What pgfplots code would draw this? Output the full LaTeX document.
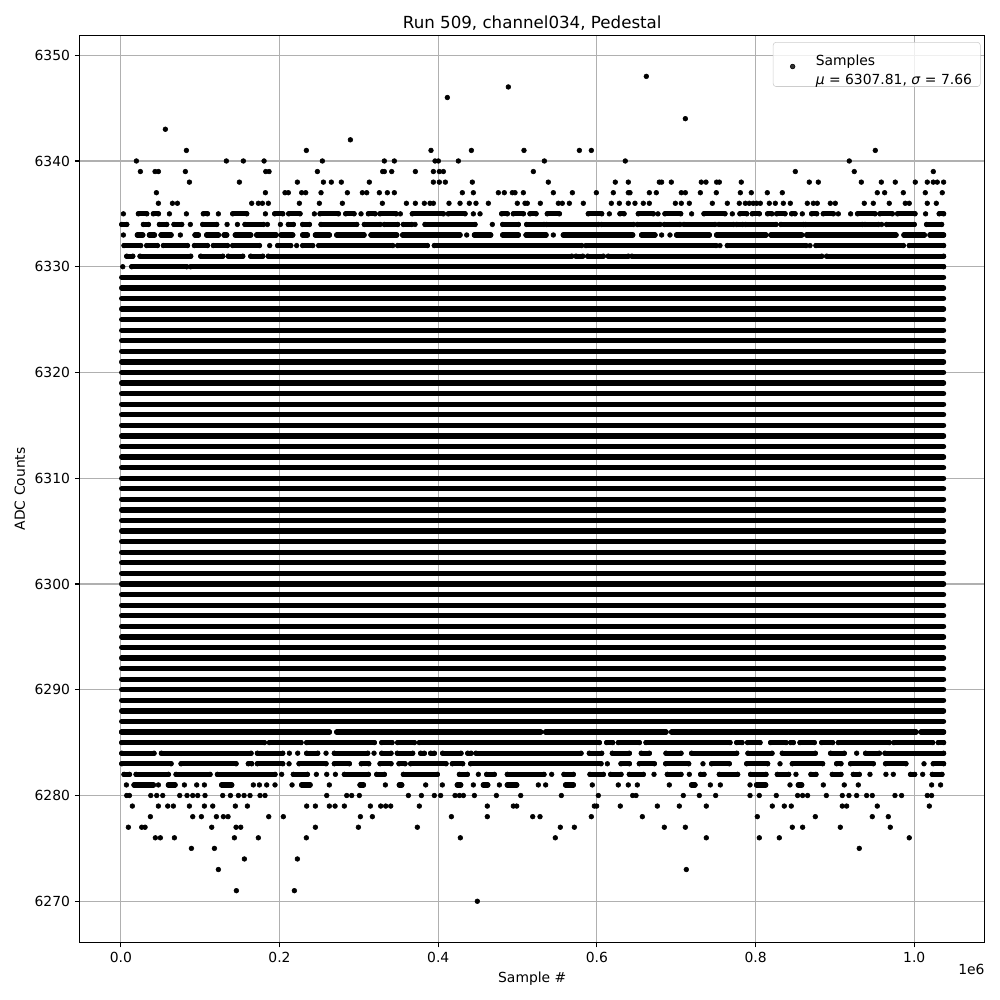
\documentclass[border=0pt]{standalone}
\usepackage{fontspec}
\setmainfont{DejaVu Sans}
\usepackage{pgfplots}
\pgfplotsset{compat=1.18}
\pgfplotsset{
 rowline/.style={black, line width=3.8pt, line cap=round, line join=round, mark=*, mark size=1.7pt,
   mark options={solid, fill=black, line width=0.4pt}, unbounded coords=jump, forget plot},
 dots/.style={black, only marks, mark=*, mark size=1.7pt, mark options={fill=black, line width=0.4pt}, forget plot},
}
\begin{document}
\begin{tikzpicture}
\begin{axis}[
 width=651.6pt, height=653.3pt, scale only axis,
 xmin=-0.05185, xmax=1.08885, ymin=6266.1, ymax=6351.9,
 xtick={0,0.2,0.4,0.6,0.8,1.0}, xticklabels={0.0,0.2,0.4,0.6,0.8,1.0},
 ytick={6270,6280,6290,6300,6310,6320,6330,6340,6350},
 yticklabels={6270,6280,6290,6300,6310,6320,6330,6340,6350},
 /pgf/number format/assume math mode=true,
 ticklabel style={font=\fontsize{10}{12}\selectfont},
 tick align=outside, major tick length=3.5pt,
 xtick pos=bottom, ytick pos=left,
 tick style={black, line width=0.8pt},
 axis line style={line width=0.8pt},
 grid=major, major grid style={color=black!31, line width=0.8pt},
 xlabel={Sample \#}, ylabel={ADC Counts},
 label style={font=\fontsize{10}{12}\selectfont},
 title={Run 509, channel034, Pedestal}, title style={font=\fontsize{12}{14}\selectfont, yshift=-6.5pt},
 legend style={at={(rel axis cs:1,1)}, anchor=north east, xshift=-3pt, yshift=-5pt,
   draw=black!20, rounded corners=2pt, fill=white, fill opacity=0.8, text opacity=1,
   font=\fontsize{10}{12}\selectfont, inner xsep=4pt, inner ysep=5pt, cells={anchor=west},
   /tikz/every odd column/.append style={column sep=4.7pt}},
 legend image code/.code={\path[draw=none, fill=none] (0pt,-2pt) rectangle (20pt,2pt);
   \draw[black, mark=*, mark size=1.7pt, mark options={fill=black, line width=0.4pt}] plot coordinates {(10pt,-1.5pt)};},
]
\coordinate (SW) at (rel axis cs:0,0);
\coordinate (NE) at (rel axis cs:1,1);
\addlegendimage{black}
\addlegendentry{{\renewcommand\arraystretch{1.15}\begin{tabular}{@{}l@{}}Samples\\\textit{μ} = 6307.81, \textit{σ} = 7.66\end{tabular}}}

% dense rows 6287..6329
\addplot[rowline, mark=none] coordinates {
(0.001,6287)(1.037,6287)(0,nan)(0.001,6288)(1.037,6288)(0,nan)(0.001,6289)(1.037,6289)(0,nan)
(0.001,6290)(1.037,6290)(0,nan)(0.001,6291)(1.037,6291)(0,nan)(0.001,6292)(1.037,6292)(0,nan)
(0.001,6293)(1.037,6293)(0,nan)(0.001,6294)(1.037,6294)(0,nan)(0.001,6295)(1.037,6295)(0,nan)
(0.001,6296)(1.037,6296)(0,nan)(0.001,6297)(1.037,6297)(0,nan)(0.001,6298)(1.037,6298)(0,nan)
(0.001,6299)(1.037,6299)(0,nan)(0.001,6300)(1.037,6300)(0,nan)(0.001,6301)(1.037,6301)(0,nan)
(0.001,6302)(1.037,6302)(0,nan)(0.001,6303)(1.037,6303)(0,nan)(0.001,6304)(1.037,6304)(0,nan)
(0.001,6305)(1.037,6305)(0,nan)(0.001,6306)(1.037,6306)(0,nan)(0.001,6307)(1.037,6307)(0,nan)
(0.001,6308)(1.037,6308)(0,nan)(0.001,6309)(1.037,6309)(0,nan)(0.001,6310)(1.037,6310)(0,nan)
(0.001,6311)(1.037,6311)(0,nan)(0.001,6312)(1.037,6312)(0,nan)(0.001,6313)(1.037,6313)(0,nan)
(0.001,6314)(1.037,6314)(0,nan)(0.001,6315)(1.037,6315)(0,nan)(0.001,6316)(1.037,6316)(0,nan)
(0.001,6317)(1.037,6317)(0,nan)(0.001,6318)(1.037,6318)(0,nan)(0.001,6319)(1.037,6319)(0,nan)
(0.001,6320)(1.037,6320)(0,nan)(0.001,6321)(1.037,6321)(0,nan)(0.001,6322)(1.037,6322)(0,nan)
(0.001,6323)(1.037,6323)(0,nan)(0.001,6324)(1.037,6324)(0,nan)(0.001,6325)(1.037,6325)(0,nan)
(0.001,6326)(1.037,6326)(0,nan)(0.001,6327)(1.037,6327)(0,nan)(0.001,6328)(1.037,6328)(0,nan)
(0.001,6329)(1.037,6329)
};

% row 6330
\addplot[rowline] coordinates {(0.0024,6330)(0,nan)(0.0137,6330)(0.0830,6330)(0,nan)(0.0880,6330)(1.037,6330)};
% row 6331
\addplot[rowline] coordinates {
(0.0074,6331)(0.0150,6331)(0,nan)(0.0242,6331)(0.0880,6331)(0,nan)(0.1007,6331)(0.1284,6331)(0,nan)
(0.1355,6331)(0.1536,6331)(0,nan)(0.1637,6331)(0.1788,6331)(0,nan)(0.1859,6331)(0.5682,6331)(0,nan)
(0.5737,6331)(0.5821,6331)(0,nan)(0.5884,6331)(0.6081,6331)(0,nan)(0.6144,6331)(0.6396,6331)(0,nan)
(0.6442,6331)(0.8833,6331)(0,nan)(0.8896,6331)(1.037,6331)};
% row 6332
\addplot[rowline] coordinates {
(0.0040,6332)(0.0250,6332)(0,nan)(0.0326,6332)(0.0460,6332)(0,nan)(0.0536,6332)(0.0839,6332)(0,nan)
(0.0927,6332)(0.1091,6332)(0,nan)(0.1166,6332)(0.1343,6332)(0,nan)(0.1410,6332)(0.1746,6332)(0,nan)
(0.1876,6332)(0,nan)(0.1977,6332)(0.2141,6332)(0,nan)(0.2216,6332)(0,nan)(0.2292,6332)(0.2418,6332)(0,nan)
(0.2494,6332)(0.3426,6332)(0,nan)(0.3489,6332)(0.3863,6332)(0,nan)(0.3951,6332)(0.5808,6332)(0,nan)
(0.5863,6332)(0.7501,6332)(0,nan)(0.7551,6332)(0,nan)(0.7644,6332)(0.8635,6332)(0,nan)(0.8686,6332)(0,nan)
(0.8761,6332)(0.9862,6332)(0,nan)(0.9937,6332)(1.037,6332)};
% row 6333
\addplot[rowline] coordinates {
(0.0032,6333)(0,nan)(0.0208,6333)(0.0276,6333)(0,nan)(0.0360,6333)(0.0423,6333)(0,nan)
(0.0507,6333)(0.0633,6333)(0,nan)(0.0750,6333)(0,nan)(0.0935,6333)(0.0977,6333)(0,nan)
(0.1082,6333)(0.1229,6333)(0,nan)(0.1301,6333)(0.1334,6333)(0,nan)(0.1443,6333)(0.1637,6333)(0,nan)
(0.1712,6333)(0.1956,6333)(0,nan)(0.2019,6333)(0.2166,6333)(0,nan)(0.2292,6333)(0.2351,6333)(0,nan)
(0.2452,6333)(0.2628,6333)(0,nan)(0.2721,6333)(0.3065,6333)(0,nan)(0.3153,6333)(0.3477,6333)(0,nan)
(0.3552,6333)(0.4275,6333)(0,nan)(0.4359,6333)(0,nan)(0.4456,6333)(0.4661,6333)(0,nan)
(0.4813,6333)(0.5010,6333)(0,nan)(0.5107,6333)(0.5359,6333)(0,nan)(0.5451,6333)(0,nan)
(0.5577,6333)(0.6451,6333)(0,nan)(0.6564,6333)(0.6732,6333)(0,nan)(0.6816,6333)(0,nan)(0.6921,6333)(0,nan)
(0.7005,6333)(0.7417,6333)(0,nan)(0.7509,6333)(0.8131,6333)(0,nan)(0.8194,6333)(0.8581,6333)(0,nan)
(0.8644,6333)(0.9770,6333)(0,nan)(0.9870,6333)(1.0127,6333)(0,nan)(1.0198,6333)(1.037,6333)};
% row 6334
\addplot[rowline] coordinates {
(0.0011,6334)(0.0074,6334)(0,nan)(0.0284,6334)(0.0347,6334)(0,nan)(0.0486,6334)(0.0578,6334)(0,nan)
(0.0670,6334)(0.0767,6334)(0,nan)(0.0876,6334)(0,nan)(0.1032,6334)(0.1208,6334)(0,nan)
(0.1339,6334)(0,nan)(0.1469,6334)(0,nan)(0.1565,6334)(0.1796,6334)(0,nan)(0.1847,6334)(0,nan)
(0.2011,6334)(0,nan)(0.2111,6334)(0.2174,6334)(0,nan)(0.2292,6334)(0.2376,6334)(0,nan)
(0.2523,6334)(0.2973,6334)(0,nan)(0.3069,6334)(0.3267,6334)(0,nan)(0.3321,6334)(0.3489,6334)(0,nan)
(0.3561,6334)(0.3666,6334)(0,nan)(0.3708,6334)(0,nan)(0.3834,6334)(0.4464,6334)(0,nan)
(0.4682,6334)(0,nan)(0.4813,6334)(0.5010,6334)(0,nan)(0.5115,6334)(0.5333,6334)(0,nan)
(0.5367,6334)(0.6018,6334)(0,nan)(0.6060,6334)(0.6459,6334)(0,nan)(0.6510,6334)(0.6795,6334)(0,nan)
(0.6850,6334)(0.7047,6334)(0,nan)(0.7098,6334)(0.7488,6334)(0,nan)(0.7539,6334)(0.7720,6334)(0,nan)
(0.7762,6334)(0.7837,6334)(0,nan)(0.7875,6334)(0.8257,6334)(0,nan)(0.8320,6334)(0.8602,6334)(0,nan)
(0.8631,6334)(0.9345,6334)(0,nan)(0.9379,6334)(0.9547,6334)(0,nan)(0.9589,6334)(0,nan)
(0.9652,6334)(1.0000,6334)(0,nan)(1.0156,6334)(1.0345,6334)};
% row 6335
\addplot[rowline] coordinates {
(0.0032,6335)(0,nan)(0.0221,6335)(0.0326,6335)(0,nan)(0.0410,6335)(0.0473,6335)(0,nan)
(0.0612,6335)(0,nan)(0.0826,6335)(0,nan)(0.1040,6335)(0.1091,6335)(0,nan)(0.1229,6335)(0,nan)
(0.1410,6335)(0.1586,6335)(0,nan)(0.1822,6335)(0,nan)(0.1939,6335)(0.2040,6335)(0,nan)
(0.2116,6335)(0.2258,6335)(0,nan)(0.2439,6335)(0,nan)(0.2511,6335)(0.2742,6335)(0,nan)
(0.2834,6335)(0.2939,6335)(0,nan)(0.3027,6335)(0,nan)(0.3120,6335)(0.3204,6335)(0,nan)
(0.3267,6335)(0.3468,6335)(0,nan)(0.3523,6335)(0,nan)(0.3674,6335)(0.4065,6335)(0,nan)
(0.4128,6335)(0.4338,6335)(0,nan)(0.4443,6335)(0,nan)(0.4527,6335)(0,nan)
(0.4800,6335)(0.4871,6335)(0,nan)(0.4947,6335)(0.5073,6335)(0,nan)(0.5157,6335)(0.5233,6335)(0,nan)
(0.5375,6335)(0.5527,6335)(0,nan)(0.5892,6335)(0.6060,6335)(0,nan)(0.6157,6335)(0,nan)
(0.6291,6335)(0.6342,6335)(0,nan)(0.6522,6335)(0.6711,6335)(0,nan)(0.6770,6335)(0,nan)
(0.6858,6335)(0.7056,6335)(0,nan)(0.7194,6335)(0,nan)(0.7350,6335)(0.7614,6335)(0,nan)
(0.7707,6335)(0,nan)(0.7803,6335)(0.7888,6335)(0,nan)(0.7959,6335)(0.8047,6335)(0,nan)
(0.8152,6335)(0.8203,6335)(0,nan)(0.8266,6335)(0.8371,6335)(0,nan)(0.8455,6335)(0.8497,6335)(0,nan)
(0.8589,6335)(0,nan)(0.8707,6335)(0.8770,6335)(0,nan)(0.8854,6335)(0.8980,6335)(0,nan)
(0.9043,6335)(0,nan)(0.9198,6335)(0,nan)(0.9286,6335)(0.9505,6335)(0,nan)
(0.9568,6335)(0.9723,6335)(0,nan)(0.9790,6335)(1.0009,6335)(0,nan)(1.0143,6335)(0,nan)
(1.0315,6335)(1.0370,6335)};

% row 6286
\addplot[rowline] coordinates {
(0.001,6286)(0.2628,6286)(0,nan)(0.2721,6286)(0.5291,6286)(0,nan)(0.5354,6286)(0.6871,6286)(0,nan)
(0.6942,6286)(1.0022,6286)(0,nan)(1.0085,6286)(1.037,6286)};
% row 6285
\addplot[rowline] coordinates {
(0.0011,6285)(0.1809,6285)(0,nan)(0.1872,6285)(0.2271,6285)(0,nan)(0.2342,6285)(0.3195,6285)(0,nan)
(0.3288,6285)(0.3418,6285)(0,nan)(0.3489,6285)(0.3699,6285)(0,nan)(0.3762,6285)(0.6031,6285)(0,nan)
(0.6123,6285)(0.6199,6285)(0,nan)(0.6270,6285)(0.6535,6285)(0,nan)(0.6619,6285)(0.7678,6285)(0,nan)
(0.7762,6285)(0.7829,6285)(0,nan)(0.7900,6285)(0.8056,6285)(0,nan)(0.8190,6285)(0.8383,6285)(0,nan)
(0.8442,6285)(0.8476,6285)(0,nan)(0.8560,6285)(0.8740,6285)(0,nan)(0.8833,6285)(0.8971,6285)(0,nan)
(0.9043,6285)(0.9685,6285)(0,nan)(0.9744,6285)(1.0232,6285)(0,nan)(1.0303,6285)(1.0370,6285)};
% row 6284
\addplot[rowline] coordinates {
(0.0011,6284)(0.0418,6284)(0,nan)(0.0511,6284)(0.1641,6284)(0,nan)(0.1721,6284)(0.2040,6284)(0,nan)
(0.2124,6284)(0,nan)(0.2229,6284)(0,nan)(0.2342,6284)(0.2481,6284)(0,nan)(0.2586,6284)(0,nan)
(0.2691,6284)(0.3111,6284)(0,nan)(0.3191,6284)(0,nan)(0.3288,6284)(0.3405,6284)(0,nan)
(0.3485,6284)(0.3678,6284)(0,nan)(0.3779,6284)(0.3825,6284)(0,nan)(0.3905,6284)(0.3951,6284)(0,nan)
(0.4056,6284)(0.4287,6284)(0,nan)(0.4372,6284)(0.4414,6284)(0,nan)(0.4476,6284)(0.5800,6284)(0,nan)
(0.5905,6284)(0.6060,6284)(0,nan)(0.6195,6284)(0.6409,6284)(0,nan)(0.6560,6284)(0.6661,6284)(0,nan)
(0.6871,6284)(0.7060,6284)(0,nan)(0.7194,6284)(0.7762,6284)(0,nan)(0.7904,6284)(0.8207,6284)(0,nan)
(0.8337,6284)(0.8753,6284)(0,nan)(0.8946,6284)(0.9118,6284)(0,nan)(0.9274,6284)(0,nan)
(0.9387,6284)(0.9560,6284)(0,nan)(0.9631,6284)(1.0370,6284)};
% row 6283
\addplot[rowline] coordinates {
(0.0011,6283)(0.0633,6283)(0,nan)(0.0759,6283)(0.1452,6283)(0,nan)(0.1607,6283)(0.1649,6283)(0,nan)
(0.1721,6283)(0.2040,6283)(0,nan)(0.2120,6283)(0,nan)(0.2246,6283)(0.2586,6283)(0,nan)
(0.2691,6283)(0.2880,6283)(0,nan)(0.3031,6283)(0.3124,6283)(0,nan)(0.3267,6283)(0.3405,6283)(0,nan)
(0.3506,6283)(0.3582,6283)(0,nan)(0.3653,6283)(0.4098,6283)(0,nan)(0.4178,6283)(0.4308,6283)(0,nan)
(0.4409,6283)(0.6052,6283)(0,nan)(0.6132,6283)(0,nan)(0.6304,6283)(0.6409,6283)(0,nan)
(0.6535,6283)(0.6724,6283)(0,nan)(0.6867,6283)(0.7157,6283)(0,nan)(0.7337,6283)(0,nan)
(0.7446,6283)(0.7669,6283)(0,nan)(0.7888,6283)(0.8152,6283)(0,nan)(0.8308,6283)(0,nan)
(0.8463,6283)(0.8845,6283)(0,nan)(0.9022,6283)(0.9076,6283)(0,nan)(0.9198,6283)(0.9484,6283)(0,nan)
(0.9639,6283)(0.9895,6283)(0,nan)(1.0123,6283)(0,nan)(1.0240,6283)(1.0370,6283)};
% row 6282
\addplot[rowline] coordinates {
(0.0040,6282)(0.0108,6282)(0,nan)(0.0192,6282)(0.0599,6282)(0,nan)(0.0696,6282)(0.1124,6282)(0,nan)
(0.1217,6282)(0.1943,6282)(0,nan)(0.2027,6282)(0,nan)(0.2174,6282)(0.2351,6282)(0,nan)
(0.2464,6282)(0,nan)(0.2595,6282)(0,nan)(0.2704,6282)(0,nan)(0.2817,6282)(0.3120,6282)(0,nan)
(0.3225,6282)(0.3321,6282)(0,nan)(0.3561,6282)(0.3989,6282)(0,nan)(0.4267,6282)(0.4367,6282)(0,nan)
(0.4506,6282)(0,nan)(0.4611,6282)(0.4707,6282)(0,nan)(0.4871,6282)(0.5333,6282)(0,nan)
(0.5430,6282)(0,nan)(0.5585,6282)(0.5703,6282)(0,nan)(0.5913,6282)(0.6081,6282)(0,nan)
(0.6174,6282)(0.6304,6282)(0,nan)(0.6409,6282)(0.6585,6282)(0,nan)(0.6720,6282)(0,nan)
(0.6888,6282)(0.7060,6282)(0,nan)(0.7165,6282)(0,nan)(0.7308,6282)(0.7350,6282)(0,nan)
(0.7543,6282)(0.7774,6282)(0,nan)(0.7938,6282)(0.8131,6282)(0,nan)(0.8274,6282)(0.8417,6282)(0,nan)
(0.8509,6282)(0,nan)(0.8698,6282)(0.8761,6282)(0,nan)(0.8967,6282)(0.9076,6282)(0,nan)
(0.9232,6282)(0.9307,6282)(0,nan)(0.9442,6282)(0,nan)(0.9643,6282)(0,nan)(0.9736,6282)(0,nan)
(0.9954,6282)(1.0005,6282)(0,nan)(1.0106,6282)(0,nan)(1.0228,6282)(1.0349,6282)};
% row 6281
\addplot[rowline] coordinates {
(0.0070,6281)(0,nan)(0.0166,6281)(0.0410,6281)(0,nan)(0.0473,6281)(0,nan)(0.0599,6281)(0.0683,6281)(0,nan)
(0.0801,6281)(0,nan)(0.0956,6281)(0,nan)(0.1053,6281)(0,nan)(0.1271,6281)(0.1397,6281)(0,nan)
(0.1670,6281)(0,nan)(0.1746,6281)(0,nan)(0.1838,6281)(0,nan)(0.1943,6281)(0,nan)(0.2158,6281)(0,nan)
(0.2279,6281)(0.2385,6281)(0,nan)(0.2628,6281)(0,nan)(0.3015,6281)(0.3057,6281)(0,nan)
(0.3334,6281)(0,nan)(0.3510,6281)(0.3540,6281)(0,nan)(0.3842,6281)(0,nan)(0.4052,6281)(0,nan)
(0.4241,6281)(0.4283,6281)(0,nan)(0.4443,6281)(0,nan)(0.4569,6281)(0.4624,6281)(0,nan)
(0.4771,6281)(0,nan)(0.4871,6281)(0.4989,6281)(0,nan)(0.5262,6281)(0,nan)(0.5354,6281)(0,nan)
(0.5606,6281)(0.5703,6281)(0,nan)(0.5942,6281)(0,nan)(0.6270,6281)(0,nan)(0.6396,6281)(0,nan)
(0.6510,6281)(0,nan)(0.6913,6281)(0,nan)(0.7194,6281)(0.7236,6281)(0,nan)(0.7430,6281)(0,nan)
(0.7556,6281)(0,nan)(0.7930,6281)(0,nan)(0.8013,6281)(0.8127,6281)(0,nan)(0.8434,6281)(0,nan)
(0.8539,6281)(0.8581,6281)(0,nan)(0.8854,6281)(0,nan)(0.9118,6281)(0,nan)(0.9295,6281)(0,nan)
(1.0219,6281)(0,nan)(1.0332,6281)};

% sparse samples
\addplot[dots] coordinates {
(0.6623,6348)(0.4884,6347)(0.4115,6346)(0.7115,6344)(0.0561,6343)(0.2893,6342)
(0.0826,6341)(0.2338,6341)(0.3909,6341)(0.4418,6341)(0.5081,6341)(0.5779,6341)(0.5930,6341)(0.9509,6341)
(0.0196,6340)(0.1330,6340)(0.1544,6340)(0.1805,6340)(0.2540,6340)(0.3321,6340)(0.3447,6340)(0.3960,6340)
(0.4002,6340)(0.4254,6340)(0.5338,6340)(0.6358,6340)(0.9181,6340)
(0.0246,6339)(0.0431,6339)(0.0473,6339)(0.0813,6339)(0.1826,6339)(0.1868,6339)(0.2477,6339)(0.3300,6339)
(0.3321,6339)(0.3414,6339)(0.3712,6339)(0.3939,6339)(0.4014,6339)(0.4065,6339)(0.5199,6339)(0.8501,6339)
(0.9244,6339)(1.0240,6339)
(0.0864,6338)(0.1494,6338)(0.2225,6338)(0.2553,6338)(0.2653,6338)(0.2779,6338)(0.3132,6338)(0.3939,6338)
(0.4014,6338)(0.4090,6338)(0.4430,6338)(0.5388,6338)(0.6232,6338)(0.6396,6338)(0.6787,6338)(0.6816,6338)
(0.6938,6338)(0.7316,6338)(0.7375,6338)(0.7509,6338)(0.7543,6338)(0.7820,6338)(0.8677,6338)(0.8791,6338)
(0.9333,6338)(0.9585,6338)(0.9761,6338)(1.0013,6338)(1.0164,6338)(1.0240,6338)(1.0290,6338)(1.0370,6338)
(0.0448,6337)(0.1822,6337)(0.2069,6337)(0.2111,6337)(0.2279,6337)(0.2330,6337)(0.2523,6337)(0.2855,6337)
(0.3044,6337)(0.3099,6337)(0.3258,6337)(0.3359,6337)(0.3447,6337)(0.4304,6337)(0.4443,6337)(0.4758,6337)
(0.4833,6337)(0.4934,6337)(0.4968,6337)(0.5073,6337)(0.5451,6337)(0.5691,6337)(0.5993,6337)(0.6207,6337)
(0.6396,6337)(0.6417,6337)(0.6661,6337)(0.6749,6337)(0.7064,6337)(0.7115,6337)(0.7304,6337)(0.7505,6337)
(0.7808,6337)(0.7946,6337)(0.8148,6337)(0.8337,6337)(0.9534,6337)(0.9627,6337)(0.9862,6337)(1.0139,6337)
(1.0353,6337)
(0.0473,6336)(0.0650,6336)(0.0713,6336)(0.1649,6336)(0.1733,6336)(0.1784,6336)(0.1859,6336)(0.2250,6336)
(0.2502,6336)(0.2792,6336)(0.3296,6336)(0.3599,6336)(0.3712,6336)(0.3825,6336)(0.3897,6336)(0.3939,6336)
(0.4136,6336)(0.4275,6336)(0.4392,6336)(0.4476,6336)(0.4632,6336)(0.4997,6336)(0.5094,6336)(0.5123,6336)
(0.5287,6336)(0.5514,6336)(0.5564,6336)(0.5653,6336)(0.5829,6336)(0.6182,6336)(0.6283,6336)(0.6396,6336)
(0.6480,6336)(0.6585,6336)(0.6661,6336)(0.6989,6336)(0.7064,6336)(0.7165,6336)(0.7455,6336)(0.7644,6336)
(0.7795,6336)(0.7871,6336)(0.7921,6336)(0.7971,6336)(0.8013,6336)(0.8060,6336)(0.8173,6336)(0.8249,6336)
(0.8350,6336)(0.8438,6336)(0.8652,6336)(0.8728,6336)(0.8778,6336)(0.8942,6336)(0.9005,6336)(0.9370,6336)
(0.9484,6336)(0.9685,6336)(0.9887,6336)(0.9937,6336)(1.0164,6336)(1.0278,6336)
(0.0074,6280)(0.0108,6280)(0.0377,6280)(0.0452,6280)(0.0528,6280)(0.0742,6280)(0.0834,6280)(0.0906,6280)
(0.0969,6280)(0.1061,6280)(0.1284,6280)(0.1381,6280)(0.1481,6280)(0.1553,6280)(0.1628,6280)(0.1754,6280)
(0.1817,6280)(0.2595,6280)(0.2847,6280)(0.2910,6280)(0.3006,6280)(0.3624,6280)(0.3788,6280)(0.3951,6280)
(0.4031,6280)(0.4212,6280)(0.4267,6280)(0.4317,6280)(0.4456,6280)(0.4733,6280)(0.5040,6280)(0.5552,6280)
(0.6018,6280)(0.6451,6280)(0.6493,6280)(0.7089,6280)(0.7291,6280)(0.7497,6280)(0.7930,6280)(0.8047,6280)
(0.8261,6280)(0.8530,6280)(0.8593,6280)(0.8656,6280)(0.8892,6280)(0.9093,6280)(0.9177,6280)(0.9274,6280)
(0.9400,6280)(0.9471,6280)(0.9757,6280)(0.9841,6280)(1.0164,6280)(1.0219,6280)
(0.0145,6279)(0.0473,6279)(0.0591,6279)(0.0662,6279)(0.0864,6279)(0.1053,6279)(0.1158,6279)(0.1443,6279)
(0.1595,6279)(0.2342,6279)(0.2452,6279)(0.2628,6279)(0.2700,6279)(0.2817,6279)(0.3145,6279)(0.3275,6279)
(0.3338,6279)(0.3401,6279)(0.3762,6279)(0.4619,6279)(0.4947,6279)(0.4989,6279)(0.5968,6279)(0.5997,6279)
(0.6295,6279)(0.6762,6279)(0.7039,6279)(0.7379,6279)(0.8211,6279)(0.8362,6279)(0.8450,6279)(0.9093,6279)
(0.9148,6279)(0.9534,6279)(1.0190,6279)
(0.0372,6278)(0.0906,6278)(0.1015,6278)(0.1204,6278)(0.1292,6278)(0.1351,6278)(0.1864,6278)(0.2048,6278)
(0.3019,6278)(0.3170,6278)(0.4166,6278)(0.4619,6278)(0.5191,6278)(0.5283,6278)(0.5930,6278)(0.6573,6278)
(0.8022,6278)(0.8753,6278)(0.9471,6278)(0.9673,6278)
(0.0095,6277)(0.0263,6277)(0.0305,6277)(0.1145,6277)(0.1452,6277)(0.1511,6277)(0.2452,6277)(0.2994,6277)
(0.3737,6277)(0.5539,6277)(0.5716,6277)(0.6850,6277)(0.7115,6277)(0.8463,6277)(0.8593,6277)(0.9068,6277)
(0.9698,6277)
(0.0435,6276)(0.0498,6276)(0.0675,6276)(0.1431,6276)(0.1733,6276)(0.2338,6276)(0.4279,6276)(0.5476,6276)
(0.7379,6276)(0.8047,6276)(0.8299,6276)(0.9937,6276)
(0.0889,6275)(0.1179,6275)(0.9307,6275)
(0.1557,6274)(0.2225,6274)
(0.1229,6273)(0.7127,6273)
(0.1456,6271)(0.2187,6271)
(0.4493,6270)
};
\end{axis}
\node[anchor=north east, inner sep=0pt, font=\fontsize{10}{12}\selectfont] at ([yshift=-15.5pt]SW -| NE) {1e6};
\pgfresetboundingbox
\path ([shift={(-57.4pt,-41.4pt)}]SW) rectangle ([shift={(10.9pt,25.3pt)}]NE);
\end{tikzpicture}
\end{document}
